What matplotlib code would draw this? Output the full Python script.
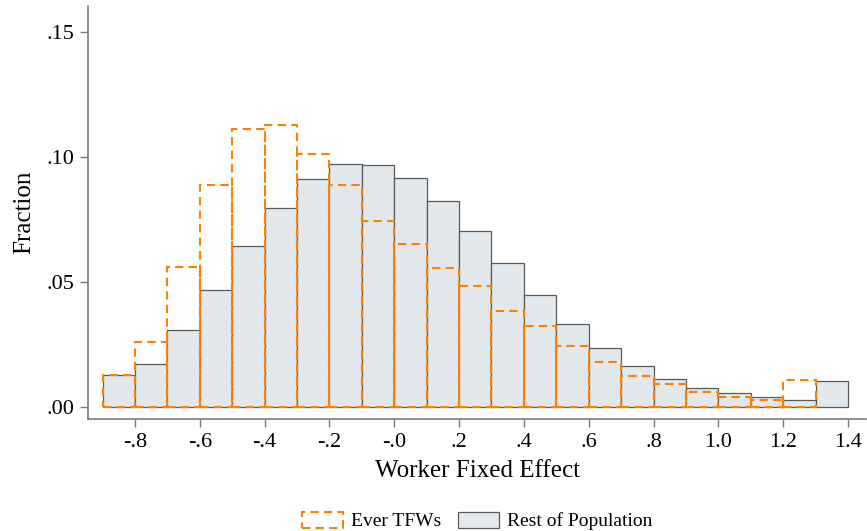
import matplotlib
matplotlib.use("Agg")
import matplotlib.pyplot as plt
from matplotlib.patches import Patch
import numpy as np

bin_left = [-0.9, -0.8, -0.7, -0.6, -0.5, -0.4, -0.3, -0.2, -0.1, 0.0, 0.1, 0.2,
            0.3, 0.4, 0.5, 0.6, 0.7, 0.8, 0.9, 1.0, 1.1, 1.2, 1.3]
rest_pop = [0.0130, 0.0172, 0.0308, 0.0470, 0.0643, 0.0798, 0.0912, 0.0973, 0.0970,
            0.0916, 0.0823, 0.0705, 0.0576, 0.0449, 0.0333, 0.0236, 0.0166, 0.0115,
            0.0078, 0.0056, 0.0040, 0.0029, 0.0105]
ever_tfw = [0.0130, 0.0262, 0.0559, 0.0888, 0.1112, 0.1129, 0.1012, 0.0888, 0.0745,
            0.0652, 0.0558, 0.0486, 0.0386, 0.0327, 0.0244, 0.0180, 0.0126, 0.0093,
            0.0060, 0.0042, 0.0028, 0.0109]
xticks = [-0.8, -0.6, -0.4, -0.2, 0.0, 0.2, 0.4, 0.6, 0.8, 1.0, 1.2, 1.4]
xtick_labels = ["-.8", "-.6", "-.4", "-.2", "-.0", ".2", ".4", ".6", ".8", "1.0", "1.2", "1.4"]
yticks = [0.0, 0.05, 0.10, 0.15]
ytick_labels = [".00", ".05", ".10", ".15"]

plt.rcParams['font.family'] = ['Liberation Serif', 'DejaVu Serif']

orange = "#FF8000"
gray_fill = "#E3E8EC"
gray_edge = "#5A5A5A"
axis_col = "#7A7A7A"

fig = plt.figure(figsize=(8.67, 5.31), dpi=100)
ax = fig.add_axes([0.1015, 0.2109, 0.8975, 0.7778])

ax.bar(bin_left, rest_pop, width=0.1, align='edge', color=gray_fill,
       edgecolor=gray_edge, linewidth=0.9, zorder=2)
ax.bar(bin_left[:len(ever_tfw)], ever_tfw, width=0.1, align='edge', fill=False,
       edgecolor=orange, linewidth=1.5, linestyle=(0, (4, 2.5)), zorder=3)

ax.set_xlim(-0.945, 1.456)
ax.set_ylim(-0.0046, 0.1603)

ax.set_xticks(xticks)
ax.set_xticklabels(xtick_labels)
ax.set_yticks(yticks)
ax.set_yticklabels(ytick_labels)

for s in ["top", "right"]:
    ax.spines[s].set_visible(False)
for s in ["left", "bottom"]:
    ax.spines[s].set_color(axis_col)
    ax.spines[s].set_linewidth(1.2)

ax.tick_params(axis='both', direction='out', length=6, width=1.0, color=axis_col,
               labelsize=16, labelcolor='black', pad=4)

ax.set_xlabel("Worker Fixed Effect", fontsize=18, labelpad=6)
ax.set_ylabel("Fraction", fontsize=18, labelpad=8)

handles = [Patch(facecolor='none', edgecolor=orange, linewidth=1.5, linestyle=(0, (4, 2.5))),
           Patch(facecolor=gray_fill, edgecolor=gray_edge, linewidth=0.9)]
fig.legend(handles, ["Ever TFWs", "Rest of Population"], loc='center',
           bbox_to_anchor=(0.5505, 0.019), ncol=2, frameon=False, fontsize=14,
           handlelength=2.1, handleheight=0.9, handletextpad=0.4, columnspacing=0.9,
           borderaxespad=0)

fig.savefig("out.png", dpi=100)
